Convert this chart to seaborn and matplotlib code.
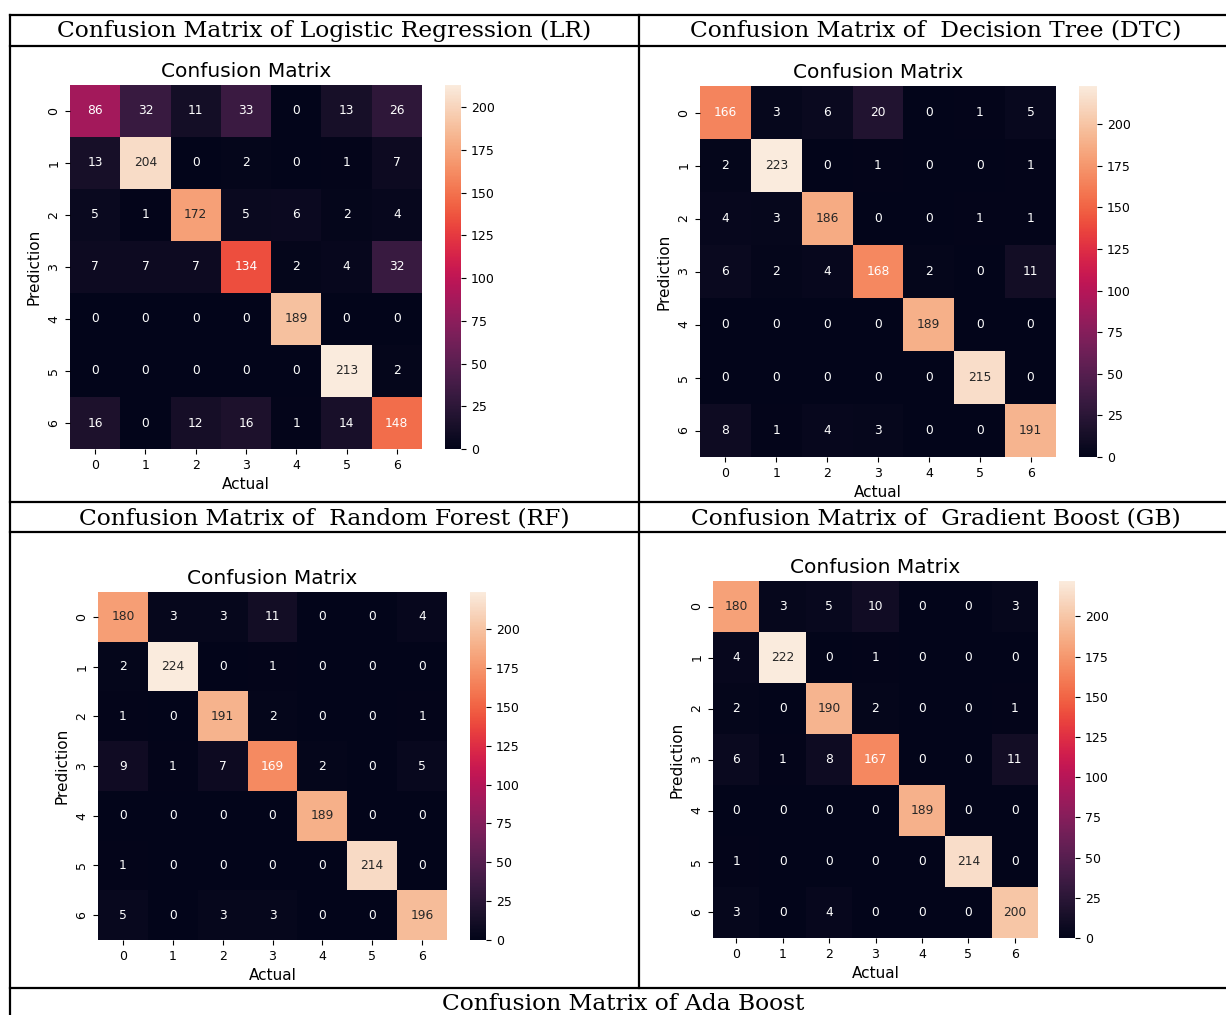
import matplotlib
matplotlib.use("Agg")
import matplotlib.pyplot as plt
from matplotlib.lines import Line2D
import numpy as np
import seaborn as sns

# Confusion matrices (rows = Prediction, cols = Actual)
classes = [0, 1, 2, 3, 4, 5, 6]

lr_cm = [[86, 32, 11, 33, 0, 13, 26],
         [13, 204, 0, 2, 0, 1, 7],
         [5, 1, 172, 5, 6, 2, 4],
         [7, 7, 7, 134, 2, 4, 32],
         [0, 0, 0, 0, 189, 0, 0],
         [0, 0, 0, 0, 0, 213, 2],
         [16, 0, 12, 16, 1, 14, 148]]

dtc_cm = [[166, 3, 6, 20, 0, 1, 5],
          [2, 223, 0, 1, 0, 0, 1],
          [4, 3, 186, 0, 0, 1, 1],
          [6, 2, 4, 168, 2, 0, 11],
          [0, 0, 0, 0, 189, 0, 0],
          [0, 0, 0, 0, 0, 215, 0],
          [8, 1, 4, 3, 0, 0, 191]]

rf_cm = [[180, 3, 3, 11, 0, 0, 4],
         [2, 224, 0, 1, 0, 0, 0],
         [1, 0, 191, 2, 0, 0, 1],
         [9, 1, 7, 169, 2, 0, 5],
         [0, 0, 0, 0, 189, 0, 0],
         [1, 0, 0, 0, 0, 214, 0],
         [5, 0, 3, 3, 0, 0, 196]]

gb_cm = [[180, 3, 5, 10, 0, 0, 3],
         [4, 222, 0, 1, 0, 0, 0],
         [2, 0, 190, 2, 0, 0, 1],
         [6, 1, 8, 167, 0, 0, 11],
         [0, 0, 0, 0, 189, 0, 0],
         [1, 0, 0, 0, 0, 214, 0],
         [3, 0, 4, 0, 0, 0, 200]]

headers = ["Confusion Matrix of Logistic Regression (LR)",
           "Confusion Matrix of  Decision Tree (DTC)",
           "Confusion Matrix of  Random Forest (RF)",
           "Confusion Matrix of  Gradient Boost (GB)",
           "Confusion Matrix of Ada Boost"]

W, H = 1226, 1015
fig = plt.figure(figsize=(W / 100, H / 100), dpi=100)
fig.patch.set_facecolor("white")


def rect(x, y, w, h):
    # pixel box (top-left origin) -> figure fraction
    return [x / W, 1 - (y + h) / H, w / W, h / H]


def hline(y, x0=10, x1=W):
    fig.add_artist(Line2D([x0 / W, x1 / W], [1 - y / H, 1 - y / H], color="black", lw=1.6))


def vline(x, y0, y1):
    fig.add_artist(Line2D([x / W, x / W], [1 - y0 / H, 1 - y1 / H], color="black", lw=1.6))


# table grid
for y in [15, 46, 502, 532, 988]:
    hline(y)
vline(10, 15, H)
vline(639, 15, 988)

# header cells
serif = dict(family="DejaVu Serif", fontsize=16.8, ha="center", va="center")
fig.text(324 / W, 1 - 31 / H, headers[0], **serif)
fig.text(936 / W, 1 - 31 / H, headers[1], **serif)
fig.text(324 / W, 1 - 518 / H, headers[2], **serif)
fig.text(936 / W, 1 - 518 / H, headers[3], **serif)
fig.text(623 / W, 1 - 1004 / H, headers[4], **serif)

# heatmap boxes: (matrix, heatmap box, colorbar box)
panels = [
    (lr_cm, (70, 85, 352, 364), (445, 85, 16, 364)),
    (dtc_cm, (700, 86, 356, 371), (1079, 86, 18, 371)),
    (rf_cm, (98, 592, 349, 348), (470, 592, 16, 348)),
    (gb_cm, (713, 581, 325, 357), (1059, 581, 16, 357)),
]

for cm, hbox, cbox in panels:
    ax = fig.add_axes(rect(*hbox))
    cax = fig.add_axes(rect(*cbox))
    sns.heatmap(np.array(cm), annot=True, fmt="d", ax=ax, cbar_ax=cax,
                xticklabels=classes, yticklabels=classes,
                annot_kws={"fontsize": 8.8})
    ax.set_title("Confusion Matrix", fontsize=14.5, pad=6)
    ax.set_xlabel("Actual", fontsize=11)
    ax.set_ylabel("Prediction", fontsize=11)
    ax.tick_params(labelsize=9)
    ax.set_yticklabels(classes, rotation=90, va="center")
    cax.tick_params(labelsize=9)

fig.savefig("out.png", dpi=100)
